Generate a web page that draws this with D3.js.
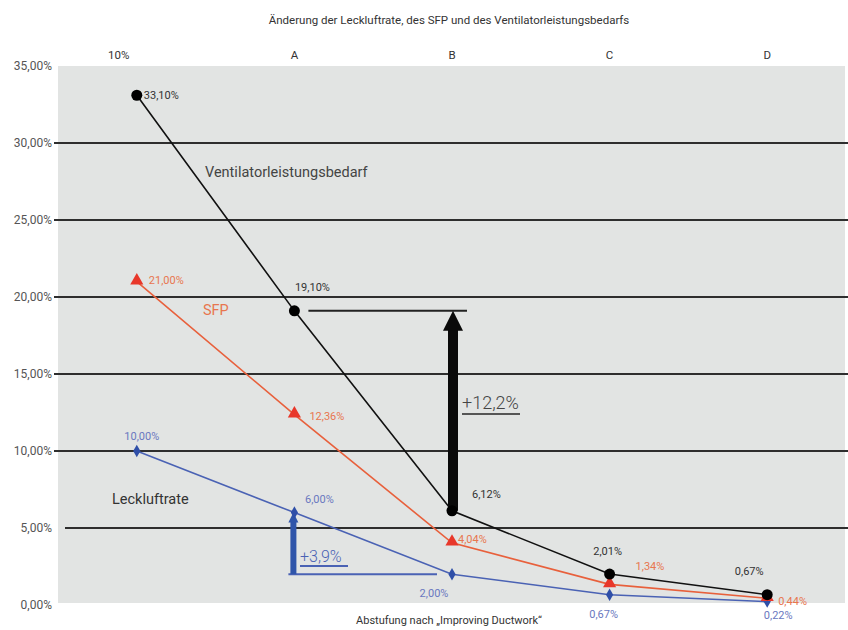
<!DOCTYPE html>
<html><head><meta charset="utf-8">
<script src="https://cdn.jsdelivr.net/npm/d3@7"></script>
<style>body{margin:0;background:#fff}svg{display:block;font-family:Roboto,"Open Sans",sans-serif}</style>
</head><body><svg id="c" width="848" height="630"></svg>
<script>
const categories = ["10%","A","B","C","D"];
const ventilator = [33.10, 19.10, 6.12, 2.01, 0.67];
const sfp = [21.00, 12.36, 4.04, 1.34, 0.44];
const leckluft = [10.00, 6.00, 2.00, 0.67, 0.22];
const yTicks = [0,5,10,15,20,25,30,35];
const title = "Änderung der Leckluftrate, des SFP und des Ventilatorleistungsbedarfs";
const xTitle = "Abstufung nach „Improving Ductwork“";

const svg = d3.select("#c");
const x = d3.scaleBand().domain(categories).range([58,846]).padding(0);
const cx = c => x(c) + x.bandwidth()/2;
const y = d3.scaleLinear().domain([0,35]).range([605,66]);
const fmt = v => v.toFixed(2).replace(".", ",") + "%";

svg.append("rect").attr("x",58).attr("y",y(35)).attr("width",787).attr("height",y(0)-y(35)-2).attr("fill","#e2e4e3");

// gridlines
svg.append("g").selectAll("line").data(yTicks.filter(t=>t>0&&t<35)).join("line")
  .attr("x1",d=>d===5?65:54).attr("x2",848).attr("y1",d=>y(d)).attr("y2",d=>y(d))
  .attr("stroke","#2e2e2e").attr("stroke-width",1.8);

// y labels
svg.append("g").selectAll("text").data(yTicks).join("text")
  .attr("x",52).attr("y",d=>y(d)).attr("dy","0.35em").attr("text-anchor","end")
  .attr("font-size",12).attr("fill","#555").text(d=>fmt(d));

// top category labels
svg.append("g").selectAll("text").data(categories).join("text")
  .attr("x",(d,i)=>cx(d)+(i===0?-18:0)).attr("y",55).attr("dy","0.35em").attr("text-anchor","middle")
  .attr("font-size",11.5).attr("fill","#333").text(d=>d);

svg.append("text").attr("x",449).attr("y",20).attr("dy","0.35em").attr("text-anchor","middle")
  .attr("font-size",11.5).attr("fill","#333").text(title);
svg.append("text").attr("x",449).attr("y",620).attr("dy","0.35em").attr("text-anchor","middle")
  .attr("font-size",11).attr("fill","#333").text(xTitle);

const line = d3.line().x((d,i)=>cx(categories[i])).y(d=>y(d));

const blk = "#0a0a0a";
svg.append("line").attr("x1",cx("A")+14).attr("x2",cx("B")+15)
  .attr("y1",y(ventilator[1])).attr("y2",y(ventilator[1])).attr("stroke","#222").attr("stroke-width",2);
{
  const ax = cx("B")+1, top = y(ventilator[1]), bot = y(ventilator[2]);
  svg.append("rect").attr("x",ax-5).attr("y",top+18).attr("width",10).attr("height",bot-top-18).attr("fill",blk);
  svg.append("path").attr("d",`M${ax},${top} L${ax+10},${top+20} L${ax-10},${top+20} Z`).attr("fill",blk);
}
svg.append("text").attr("x",462).attr("y",403).attr("dy","0.35em").attr("font-size",18).attr("font-weight",300).attr("fill","#444").text("+12,2%");
svg.append("line").attr("x1",462).attr("x2",520).attr("y1",414).attr("y2",414).attr("stroke","#555").attr("stroke-width",2);

const blue = "#2f55aa";
svg.append("line").attr("x1",cx("A")-6).attr("x2",cx("B")-15)
  .attr("y1",y(leckluft[2])).attr("y2",y(leckluft[2])).attr("stroke","#4a62b4").attr("stroke-width",2);
{
  const ax = cx("A")-1, top = y(leckluft[1]), bot = y(leckluft[2]);
  svg.append("rect").attr("x",ax-3).attr("y",top+8).attr("width",6).attr("height",bot-top-8).attr("fill",blue);
  svg.append("path").attr("d",`M${ax},${top} L${ax+5},${top+10} L${ax-5},${top+10} Z`).attr("fill",blue);
}
svg.append("text").attr("x",300).attr("y",556).attr("dy","0.35em").attr("font-size",16).attr("font-weight",300).attr("fill","#4a62b4").text("+3,9%");
svg.append("line").attr("x1",300).attr("x2",348).attr("y1",566).attr("y2",566).attr("stroke","#4a62b4").attr("stroke-width",1.8);

svg.append("path").datum(leckluft).attr("d",line).attr("fill","none").attr("stroke","#4a62b4").attr("stroke-width",1.6);
svg.append("path").datum(sfp).attr("d",line).attr("fill","none").attr("stroke","#e8603c").attr("stroke-width",1.6);
svg.append("path").datum(ventilator).attr("d",line).attr("fill","none").attr("stroke","#111").attr("stroke-width",1.6);

svg.append("g").selectAll("path").data(leckluft).join("path")
  .attr("transform",(d,i)=>`translate(${cx(categories[i])},${y(d)})`)
  .attr("d",d3.symbol(d3.symbolDiamond,45)).attr("fill","#2f4fa8");
svg.append("g").selectAll("path").data(sfp).join("path")
  .attr("transform",(d,i)=>`translate(${cx(categories[i])},${y(d)-1})`)
  .attr("d",d3.symbol(d3.symbolTriangle,75)).attr("fill","#e8372a");
svg.append("g").selectAll("circle").data(ventilator).join("circle")
  .attr("cx",(d,i)=>cx(categories[i])).attr("cy",d=>y(d)).attr("r",5.5).attr("fill","#000");

const ventOff = [[7,0,"start"],[18,-24,"middle"],[20,-17,"start"],[-2,-23,"middle"],[-18,-24,"middle"]];
const sfpOff = [[12,-1,"start"],[15,1,"start"],[6,-4,"start"],[26,-18,"start"],[11,3,"start"]];
const leckOff = [[5,-15,"middle"],[25,-13,"middle"],[-18,19,"middle"],[-6,19,"middle"],[11,14,"middle"]];
function labels(vals, offs, color){
  svg.append("g").selectAll("text").data(vals).join("text")
    .attr("x",(d,i)=>cx(categories[i])+offs[i][0]).attr("y",(d,i)=>y(d)+offs[i][1])
    .attr("dy","0.35em").attr("text-anchor",(d,i)=>offs[i][2])
    .attr("font-size",11).attr("fill",color).text(d=>fmt(d));
}
labels(ventilator, ventOff, "#333");
labels(sfp, sfpOff, "#e8764f");
labels(leckluft, leckOff, "#6a78c0");

svg.append("text").attr("x",205).attr("y",172).attr("dy","0.35em").attr("font-size",14.5).attr("fill","#444").text("Ventilatorleistungsbedarf");
svg.append("text").attr("x",203).attr("y",310).attr("dy","0.35em").attr("font-size",14.5).attr("fill","#e8764f").text("SFP");
svg.append("text").attr("x",112).attr("y",499).attr("dy","0.35em").attr("font-size",14.5).attr("fill","#333").text("Leckluftrate");
</script></body></html>
